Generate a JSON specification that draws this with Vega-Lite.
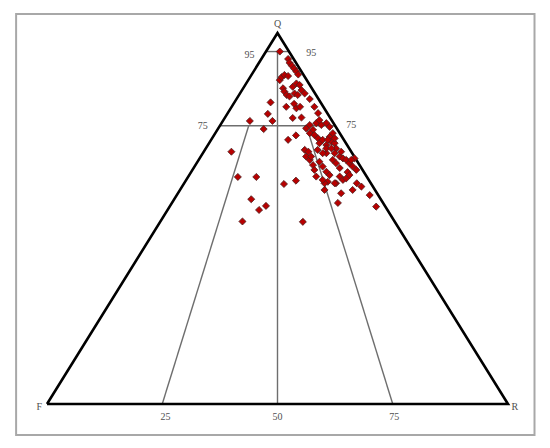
{
  "$schema": "https://vega.github.io/schema/vega-lite/v6.json",
  "width": 461,
  "height": 371,
  "autosize": "none",
  "padding": {"left": 47, "top": 33, "right": 42, "bottom": 44},
  "background": "white",
  "config": {"view": {"stroke": null}},
  "datasets": {
    "frame": [{"x": -6.7, "x2": 105.75, "y": 105.1, "y2": -8.36}],
    "lines": [
      {"g": "tri", "o": 1, "x": 0, "y": 0, "k": "outer"},
      {"g": "tri", "o": 2, "x": 50, "y": 100, "k": "outer"},
      {"g": "tri", "o": 3, "x": 100, "y": 0, "k": "outer"},
      {"g": "tri", "o": 4, "x": 0, "y": 0, "k": "outer"},
      {"g": "h95", "o": 1, "x": 47.5, "y": 95, "k": "inner"},
      {"g": "h95", "o": 2, "x": 52.5, "y": 95, "k": "inner"},
      {"g": "h75", "o": 1, "x": 37.5, "y": 75, "k": "inner"},
      {"g": "h75", "o": 2, "x": 62.5, "y": 75, "k": "inner"},
      {"g": "v50", "o": 1, "x": 50, "y": 95, "k": "inner"},
      {"g": "v50", "o": 2, "x": 50, "y": 0, "k": "inner"},
      {"g": "l25", "o": 1, "x": 43.75, "y": 75, "k": "inner"},
      {"g": "l25", "o": 2, "x": 25, "y": 0, "k": "inner"},
      {"g": "l75", "o": 1, "x": 56.25, "y": 75, "k": "inner"},
      {"g": "l75", "o": 2, "x": 75, "y": 0, "k": "inner"}
    ],
    "labels": [
      {"t": "Q", "x": 50, "y": 102.4},
      {"t": "95", "x": 43.9, "y": 94.2},
      {"t": "95", "x": 57.3, "y": 94.5},
      {"t": "75", "x": 33.8, "y": 74.8},
      {"t": "75", "x": 66.0, "y": 75.1},
      {"t": "25", "x": 25.7, "y": -3.4},
      {"t": "50", "x": 50.0, "y": -3.4},
      {"t": "75", "x": 75.3, "y": -3.4},
      {"t": "F", "x": -1.7, "y": -0.8},
      {"t": "R", "x": 101.5, "y": -0.8}
    ],
    "pts": [
      {"x": 50.5, "y": 95.0}, {"x": 52.3, "y": 93.0}, {"x": 52.6, "y": 92.0}, {"x": 53.1, "y": 91.2},
      {"x": 53.6, "y": 90.4}, {"x": 54.1, "y": 89.6}, {"x": 54.5, "y": 88.8}, {"x": 50.5, "y": 87.3},
      {"x": 50.9, "y": 88.1}, {"x": 51.5, "y": 88.7}, {"x": 52.3, "y": 88.4}, {"x": 51.2, "y": 85.1},
      {"x": 51.5, "y": 84.2}, {"x": 52.0, "y": 83.3}, {"x": 52.6, "y": 82.9}, {"x": 53.3, "y": 85.5},
      {"x": 53.7, "y": 83.7}, {"x": 54.1, "y": 86.4}, {"x": 54.8, "y": 86.0}, {"x": 55.2, "y": 84.6},
      {"x": 54.4, "y": 83.3}, {"x": 55.9, "y": 83.7}, {"x": 48.5, "y": 81.3}, {"x": 47.9, "y": 78.2},
      {"x": 48.9, "y": 76.3}, {"x": 44.0, "y": 76.3}, {"x": 47.0, "y": 74.1}, {"x": 51.9, "y": 80.1},
      {"x": 53.6, "y": 80.9}, {"x": 54.1, "y": 79.7}, {"x": 54.9, "y": 80.1}, {"x": 57.0, "y": 82.2},
      {"x": 58.0, "y": 80.1}, {"x": 58.8, "y": 78.4}, {"x": 53.3, "y": 77.1}, {"x": 55.2, "y": 77.2},
      {"x": 52.3, "y": 71.2}, {"x": 54.0, "y": 72.4}, {"x": 40.0, "y": 68.0}, {"x": 41.4, "y": 61.2},
      {"x": 45.4, "y": 61.2}, {"x": 44.3, "y": 55.2}, {"x": 46.0, "y": 52.3}, {"x": 47.5, "y": 53.4},
      {"x": 42.4, "y": 49.2}, {"x": 51.4, "y": 59.3}, {"x": 54.0, "y": 60.2}, {"x": 55.5, "y": 49.1},
      {"x": 56.2, "y": 74.3}, {"x": 57.0, "y": 75.2}, {"x": 57.7, "y": 73.9}, {"x": 58.4, "y": 75.7},
      {"x": 59.1, "y": 76.5}, {"x": 59.5, "y": 75.2}, {"x": 60.6, "y": 75.7}, {"x": 61.3, "y": 74.7},
      {"x": 57.0, "y": 73.0}, {"x": 58.0, "y": 72.5}, {"x": 58.8, "y": 71.6}, {"x": 59.1, "y": 70.3},
      {"x": 59.8, "y": 71.2}, {"x": 60.6, "y": 69.8}, {"x": 61.3, "y": 72.0}, {"x": 61.7, "y": 70.7},
      {"x": 62.0, "y": 73.0}, {"x": 62.4, "y": 70.3}, {"x": 62.7, "y": 68.9}, {"x": 60.6, "y": 67.6},
      {"x": 55.9, "y": 68.5}, {"x": 56.2, "y": 66.7}, {"x": 57.0, "y": 65.8}, {"x": 57.7, "y": 64.4},
      {"x": 58.0, "y": 63.1}, {"x": 58.4, "y": 61.3}, {"x": 59.1, "y": 65.3}, {"x": 59.8, "y": 64.0},
      {"x": 60.6, "y": 62.6}, {"x": 60.9, "y": 59.9}, {"x": 60.2, "y": 57.7}, {"x": 62.0, "y": 65.8},
      {"x": 62.7, "y": 64.9}, {"x": 63.5, "y": 66.7}, {"x": 64.2, "y": 66.2}, {"x": 64.9, "y": 65.8},
      {"x": 65.6, "y": 64.9}, {"x": 66.3, "y": 64.0}, {"x": 67.1, "y": 63.1}, {"x": 66.7, "y": 66.2},
      {"x": 63.5, "y": 61.3}, {"x": 64.2, "y": 60.4}, {"x": 64.9, "y": 60.8}, {"x": 62.7, "y": 59.5},
      {"x": 66.3, "y": 57.7}, {"x": 68.2, "y": 58.6}, {"x": 63.1, "y": 54.2}, {"x": 70.0, "y": 56.3},
      {"x": 71.4, "y": 53.2}, {"x": 56.7, "y": 68.0}, {"x": 57.3, "y": 66.7}, {"x": 59.8, "y": 67.6},
      {"x": 60.6, "y": 68.9}, {"x": 61.7, "y": 68.9}, {"x": 62.4, "y": 67.6}, {"x": 63.8, "y": 68.0},
      {"x": 66.0, "y": 65.8}, {"x": 63.8, "y": 56.8}, {"x": 60.2, "y": 59.5}, {"x": 59.8, "y": 60.4},
      {"x": 62.4, "y": 59.5}, {"x": 67.2, "y": 59.5}, {"x": 60.9, "y": 71.2}, {"x": 62.4, "y": 71.6},
      {"x": 63.5, "y": 63.6}, {"x": 65.2, "y": 62.5}, {"x": 61.3, "y": 61.7}, {"x": 58.7, "y": 68.5},
      {"x": 65.6, "y": 61.7}
    ]
  },
  "layer": [
    {
      "data": {"name": "frame"},
      "mark": {"type": "rect", "fill": null, "stroke": "#a8a8a8", "strokeWidth": 2},
      "encoding": {
        "x": {"field": "x", "type": "quantitative", "scale": {"domain": [0, 100], "nice": false, "zero": false}, "axis": null},
        "x2": {"field": "x2"},
        "y": {"field": "y", "type": "quantitative", "scale": {"domain": [0, 100], "nice": false, "zero": false}, "axis": null},
        "y2": {"field": "y2"}
      }
    },
    {
      "data": {"name": "lines"},
      "transform": [{"filter": "datum.k == 'inner'"}],
      "mark": {"type": "line", "stroke": "#6e6e6e", "strokeWidth": 1.4},
      "encoding": {
        "x": {"field": "x", "type": "quantitative"},
        "y": {"field": "y", "type": "quantitative"},
        "detail": {"field": "g"},
        "order": {"field": "o"}
      }
    },
    {
      "data": {"name": "lines"},
      "transform": [{"filter": "datum.k == 'outer'"}],
      "mark": {"type": "line", "stroke": "#000000", "strokeWidth": 2.6, "strokeJoin": "miter"},
      "encoding": {
        "x": {"field": "x", "type": "quantitative"},
        "y": {"field": "y", "type": "quantitative"},
        "detail": {"field": "g"},
        "order": {"field": "o"}
      }
    },
    {
      "data": {"name": "pts"},
      "mark": {"type": "point", "shape": "diamond", "filled": true, "fill": "#b80000", "stroke": "#4a2020", "strokeWidth": 0.8, "size": 50, "opacity": 1},
      "encoding": {
        "x": {"field": "x", "type": "quantitative"},
        "y": {"field": "y", "type": "quantitative"}
      }
    },
    {
      "data": {"name": "labels"},
      "mark": {"type": "text", "font": "Liberation Serif", "fontSize": 10, "fill": "#505050", "align": "center", "baseline": "middle"},
      "encoding": {
        "x": {"field": "x", "type": "quantitative"},
        "y": {"field": "y", "type": "quantitative"},
        "text": {"field": "t"}
      }
    }
  ]
}
